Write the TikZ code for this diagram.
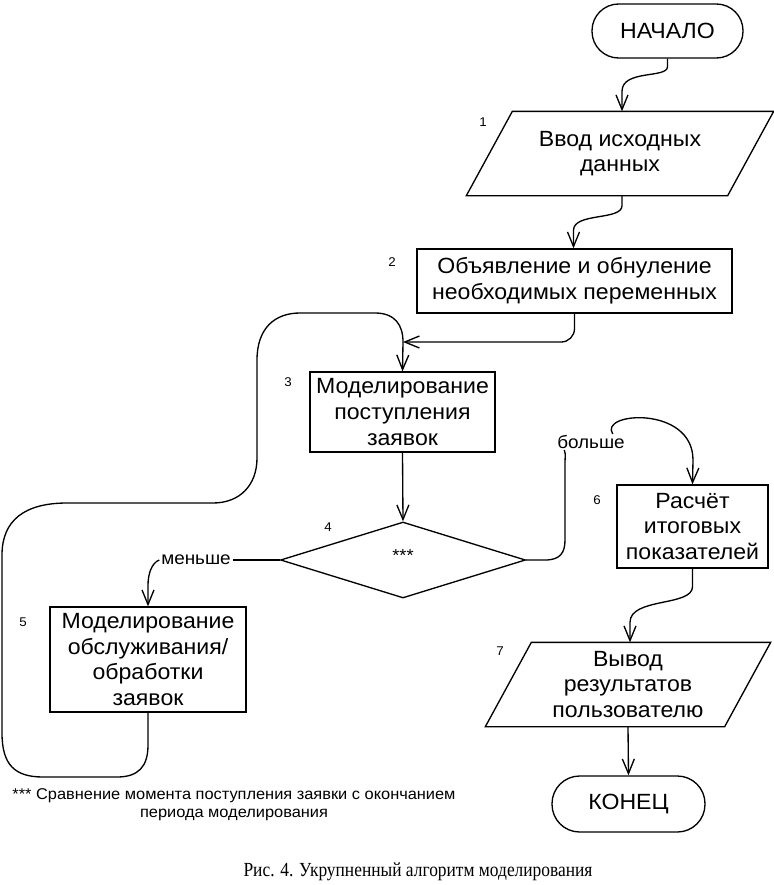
\documentclass[tikz,border=0pt]{standalone}
\usepackage{fontspec}
\setmainfont{Liberation Sans}[FakeStretch=1.05]
\newfontfamily\capfont{Liberation Serif}[FakeStretch=0.87]
\usetikzlibrary{arrows.meta,calc,shapes.geometric}
\begin{document}
\begin{tikzpicture}[x=0.75pt,y=-0.75pt,line width=1pt,
  arr/.style={-{Straight Barb[length=11pt,width=9pt]}},
  blk/.style 2 args={draw,rectangle,inner sep=0pt,minimum width=#1*0.75pt,minimum height=#2*0.75pt,align=center,font=\fontsize{16.5}{19.2}\selectfont},
  iobox/.style 2 args={rectangle,inner sep=0pt,minimum width=#1*0.75pt,minimum height=#2*0.75pt,align=center,font=\fontsize{16.5}{19.2}\selectfont},
  term/.style 2 args={draw,rectangle,rounded corners=#2*0.37pt,inner sep=0pt,minimum width=#1*0.75pt,minimum height=#2*0.75pt,font=\fontsize{16.5}{19.2}\selectfont},
  num/.style={inner sep=0pt,font=\fontsize{9.5}{11}\selectfont},
  lbl/.style={inner sep=1pt,font=\fontsize{13.5}{15}\selectfont}]
\useasboundingbox (0,0) rectangle (774,885);

% nodes
\node[term={151}{54}] (start) at (667.5,31) {НАЧАЛО};
\node[iobox={306}{83}] (p1) at (620,153.5) {Ввод исходных\\данных};
\draw ($(p1.north west)+(46,0)$) -- (p1.north east) -- ($(p1.south east)+(-46,0)$) -- (p1.south west) -- cycle;
\node[blk={315}{64}] (b2) at (574.5,281) {Объявление и обнуление\\необходимых переменных};
\node[blk={185}{80}] (b3) at (402.5,412) {Моделирование\\поступления\\заявок};
\node[draw,diamond,inner sep=0pt,minimum width=245*0.75pt,minimum height=76*0.75pt] (d4) at (403,560) {};
\node[inner sep=0pt,font=\fontsize{13}{14}\selectfont] (stars) at (403,556) {***};
\node[blk={196}{105}] (b5) at (148,659.5) {Моделирование\\обслуживания/\\обработки\\заявок};
\node[blk={151}{83}] (b6) at (692.5,526.5) {Расчёт\\итоговых\\показателей};
\node[iobox={284}{83}] (p7) at (628,684.5) {Вывод\\результатов\\пользователю};
\draw ($(p7.north west)+(46,0)$) -- (p7.north east) -- ($(p7.south east)+(-46,0)$) -- (p7.south west) -- cycle;
\node[term={153}{56}] (end) at (628.5,804) {КОНЕЦ};

% numbers
\node[num] (n1) at (483,122) {1};
\node[num] (n2) at (392,262) {2};
\node[num] (n3) at (288,382) {3};
\node[num] (n4) at (328,527) {4};
\node[num] (n5) at (23,622) {5};
\node[num] (n6) at (597,500) {6};
\node[num] (n7) at (500,651) {7};

% branch labels
\node[lbl] (less) at (196,560) {меньше};
\node[lbl,text height=9pt,text depth=0pt] (more) at (591,442) {больше};

\coordinate (m3) at (403,342);

% connectors
\draw[arr] (start.south) -- ++(0,8) .. controls +(0,12) and +(0,-22) .. ($(p1.north)+(2,-20)$) -- ($(p1.north)+(2,0)$);
\draw[arr] ($(p1.south)+(2,0)$) -- ++(0,10) .. controls +(0,15) and +(0,-18) .. ($(b2.north)+(-1,-18)$) -- ($(b2.north)+(-1,0)$);
\draw[arr,rounded corners=10pt] (b2.south) |- (m3);
\draw[arr] (m3) -- (b3.north);
\draw (b5.south) -- (148,745) .. controls (148,767) and (138,777) .. (117,777) -- (43,777)
  .. controls (15,777) and (2,765) .. (2,733) -- (2,555)
  .. controls (2,520) and (25,503) .. (67,503) -- (213,503)
  .. controls (240,503) and (257,485) .. (257,458) -- (257,360)
  .. controls (257,328) and (275,313) .. (300,313) -- (375,313)
  .. controls (395,313) and (403,325) .. (m3);
\draw[arr] (b3.south) -- (d4.north);
\draw (d4.west) -- (less.east);
\draw[arr] (less.west) .. controls +(-8,3) and +(0,-10) .. (148,585) -- (b5.north);
\draw (d4.east) -- (545,560) .. controls (560,560) and (565,553) .. (565,540) -- (565,462) .. controls (565,457) and (566,455) .. ($(more.south west)+(9,0)$);
\draw[arr] ($(more.north east)+(-14,0)$) .. controls (598,412) and (693,405) .. (693,460) -- (b6.north);
\draw[arr] (b6.south) -- ++(0,18) .. controls +(0,20) and +(0,-25) .. ($(p7.north)+(2,-20)$) -- ($(p7.north)+(2,0)$);
\draw[arr] (p7.south) -- (end.north);

% footnote and caption
\node[align=center,inner sep=0pt,font=\fontsize{11.7}{13.5}\selectfont] (note) at (234,805) {*** Сравнение момента поступления заявки с окончанием\\периода моделирования};
\node[inner sep=0pt,font=\capfont\fontsize{15}{18}\selectfont] (cap) at (418,872) {Рис. 4. Укрупненный алгоритм моделирования};
\end{tikzpicture}
\end{document}
